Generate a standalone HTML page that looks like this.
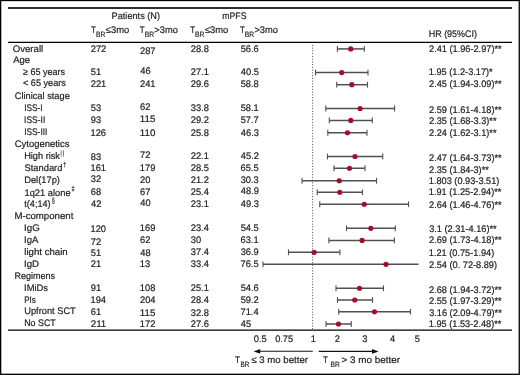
<!DOCTYPE html>
<html><head><meta charset="utf-8"><title>Forest plot: TBR and mPFS by subgroup</title>
<style>
html,body{margin:0;padding:0;background:#fff;}
body{width:520px;height:375px;overflow:hidden;}
svg{display:block;will-change:transform;}
text{font-family:"Liberation Sans",sans-serif;fill:#1e1e1e;text-rendering:geometricPrecision;stroke:#1e1e1e;stroke-width:0.20px;}
</style></head><body>
<svg width="520" height="375" viewBox="0 0 520 375">
<rect x="0" y="0" width="520" height="375" fill="#fff"/>
<rect x="0.65" y="0.5" width="518.6" height="373.8" fill="none" stroke="#000" stroke-width="1.3"/>
<line x1="8" y1="8.0" x2="512" y2="8.0" stroke="#2e2e2e" stroke-width="1.8"/>
<line x1="8" y1="42.3" x2="512" y2="42.3" stroke="#000" stroke-width="1.2"/>
<line x1="8" y1="330.2" x2="512" y2="330.2" stroke="#000" stroke-width="1.2"/>
<line x1="312.6" y1="44.9" x2="312.6" y2="329" stroke="#333" stroke-width="0.9" stroke-dasharray="1 1.75"/>
<text x="111.55" y="19.30" font-size="9.50" textLength="48.52" lengthAdjust="spacingAndGlyphs">Patients (N)</text>
<text x="222.32" y="19.40" font-size="9.50" textLength="24.18" lengthAdjust="spacingAndGlyphs">mPFS</text>
<text x="428.77" y="37.30" font-size="9.50" textLength="48.09" lengthAdjust="spacingAndGlyphs">HR (95%CI)</text>
<text x="91.12" y="32.80" font-size="9.50" textLength="4.86" lengthAdjust="spacingAndGlyphs">T</text>
<text x="95.95" y="36.60" font-size="7.70" textLength="9.37" lengthAdjust="spacingAndGlyphs">BR</text>
<text x="105.81" y="32.80" font-size="9.50" textLength="23.38" lengthAdjust="spacingAndGlyphs">≤3mo</text>
<text x="139.82" y="32.80" font-size="9.50" textLength="4.86" lengthAdjust="spacingAndGlyphs">T</text>
<text x="144.65" y="36.60" font-size="7.70" textLength="9.37" lengthAdjust="spacingAndGlyphs">BR</text>
<text x="154.34" y="32.80" font-size="9.50" textLength="23.55" lengthAdjust="spacingAndGlyphs">&gt;3mo</text>
<text x="190.22" y="32.80" font-size="9.50" textLength="4.86" lengthAdjust="spacingAndGlyphs">T</text>
<text x="195.05" y="36.60" font-size="7.70" textLength="9.37" lengthAdjust="spacingAndGlyphs">BR</text>
<text x="204.91" y="32.80" font-size="9.50" textLength="23.38" lengthAdjust="spacingAndGlyphs">≤3mo</text>
<text x="239.92" y="32.80" font-size="9.50" textLength="4.86" lengthAdjust="spacingAndGlyphs">T</text>
<text x="244.75" y="36.60" font-size="7.70" textLength="9.37" lengthAdjust="spacingAndGlyphs">BR</text>
<text x="254.44" y="32.80" font-size="9.50" textLength="23.55" lengthAdjust="spacingAndGlyphs">&gt;3mo</text>
<text x="12.75" y="52.00" font-size="9.50" textLength="30.40" lengthAdjust="spacingAndGlyphs">Overall</text>
<text x="13.18" y="62.80" font-size="9.50" textLength="16.94" lengthAdjust="spacingAndGlyphs">Age</text>
<text x="23.11" y="74.60" font-size="9.50" textLength="42.01" lengthAdjust="spacingAndGlyphs">≥ 65 years</text>
<text x="22.95" y="85.60" font-size="9.50" textLength="42.98" lengthAdjust="spacingAndGlyphs">&lt; 65 years</text>
<text x="14.73" y="98.50" font-size="9.50" textLength="55.08" lengthAdjust="spacingAndGlyphs">Clinical stage</text>
<text x="24.14" y="110.80" font-size="9.50" textLength="18.32" lengthAdjust="spacingAndGlyphs">ISS-I</text>
<text x="24.12" y="122.80" font-size="9.50" textLength="21.16" lengthAdjust="spacingAndGlyphs">ISS-II</text>
<text x="24.13" y="134.60" font-size="9.50" textLength="23.24" lengthAdjust="spacingAndGlyphs">ISS-III</text>
<text x="14.72" y="146.90" font-size="9.50" textLength="54.72" lengthAdjust="spacingAndGlyphs">Cytogenetics</text>
<text x="24.14" y="159.20" font-size="9.50" textLength="35.84" lengthAdjust="spacingAndGlyphs">High risk</text>
<text x="24.48" y="170.80" font-size="9.50" textLength="37.93" lengthAdjust="spacingAndGlyphs">Standard</text>
<text x="24.13" y="182.80" font-size="9.50" textLength="35.85" lengthAdjust="spacingAndGlyphs">Del(17p)</text>
<text x="24.49" y="195.50" font-size="9.50" textLength="46.12" lengthAdjust="spacingAndGlyphs">1q21 alone</text>
<text x="24.26" y="206.50" font-size="9.50" textLength="26.40" lengthAdjust="spacingAndGlyphs">t(4;14)</text>
<text x="14.41" y="219.20" font-size="9.50" textLength="58.96" lengthAdjust="spacingAndGlyphs">M-component</text>
<text x="24.00" y="231.20" font-size="9.50" textLength="15.73" lengthAdjust="spacingAndGlyphs">IgG</text>
<text x="24.02" y="243.10" font-size="9.50" textLength="14.30" lengthAdjust="spacingAndGlyphs">IgA</text>
<text x="24.25" y="254.90" font-size="9.50" textLength="43.48" lengthAdjust="spacingAndGlyphs">light chain</text>
<text x="24.01" y="266.90" font-size="9.50" textLength="15.06" lengthAdjust="spacingAndGlyphs">IgD</text>
<text x="14.46" y="278.90" font-size="9.50" textLength="40.67" lengthAdjust="spacingAndGlyphs">Regimens</text>
<text x="24.04" y="291.10" font-size="9.50" textLength="23.90" lengthAdjust="spacingAndGlyphs">IMiDs</text>
<text x="24.24" y="303.10" font-size="9.50" textLength="11.65" lengthAdjust="spacingAndGlyphs">PIs</text>
<text x="24.18" y="314.20" font-size="9.50" textLength="51.63" lengthAdjust="spacingAndGlyphs">Upfront SCT</text>
<text x="24.17" y="326.20" font-size="9.50" textLength="31.63" lengthAdjust="spacingAndGlyphs">No SCT</text>
<line x1="61.10" y1="150.30" x2="61.10" y2="156.60" stroke="#555" stroke-width="0.75"/>
<line x1="63.50" y1="150.30" x2="63.50" y2="156.60" stroke="#555" stroke-width="0.75"/>
<text x="63.35" y="166.70" font-size="7.00" textLength="2.90" lengthAdjust="spacingAndGlyphs">†</text>
<text x="71.62" y="191.00" font-size="7.00" textLength="3.16" lengthAdjust="spacingAndGlyphs">‡</text>
<text x="51.92" y="202.90" font-size="7.40" textLength="2.76" lengthAdjust="spacingAndGlyphs">§</text>
<text x="90.73" y="52.20" font-size="9.50" textLength="15.53" lengthAdjust="spacingAndGlyphs">272</text>
<text x="140.03" y="54.00" font-size="9.50" textLength="15.53" lengthAdjust="spacingAndGlyphs">287</text>
<text x="190.73" y="52.00" font-size="9.50" textLength="18.12" lengthAdjust="spacingAndGlyphs">28.8</text>
<text x="240.63" y="52.00" font-size="9.50" textLength="18.12" lengthAdjust="spacingAndGlyphs">56.6</text>
<text x="429.04" y="52.00" font-size="9.50" textLength="72.59" lengthAdjust="spacingAndGlyphs">2.41 (1.96-2.97)**</text>
<line x1="337.40" y1="48.90" x2="364.30" y2="48.90" stroke="#505050" stroke-width="1.5"/>
<line x1="337.40" y1="46.00" x2="337.40" y2="51.80" stroke="#505050" stroke-width="1.1"/>
<line x1="364.30" y1="46.00" x2="364.30" y2="51.80" stroke="#505050" stroke-width="1.1"/>
<circle cx="350.70" cy="48.90" r="2.6" fill="#aa0a2a"/>
<text x="90.83" y="74.70" font-size="9.50" textLength="10.36" lengthAdjust="spacingAndGlyphs">51</text>
<text x="140.29" y="74.30" font-size="9.50" textLength="10.36" lengthAdjust="spacingAndGlyphs">46</text>
<text x="190.73" y="74.90" font-size="9.50" textLength="18.12" lengthAdjust="spacingAndGlyphs">27.1</text>
<text x="240.79" y="74.90" font-size="9.50" textLength="18.12" lengthAdjust="spacingAndGlyphs">40.5</text>
<text x="428.80" y="75.20" font-size="9.50" textLength="63.90" lengthAdjust="spacingAndGlyphs">1.95 (1.2-3.17)*</text>
<line x1="315.50" y1="72.60" x2="368.00" y2="72.60" stroke="#505050" stroke-width="1.5"/>
<line x1="315.50" y1="69.70" x2="315.50" y2="75.50" stroke="#505050" stroke-width="1.1"/>
<line x1="368.00" y1="69.70" x2="368.00" y2="75.50" stroke="#505050" stroke-width="1.1"/>
<circle cx="341.70" cy="72.60" r="2.6" fill="#aa0a2a"/>
<text x="90.73" y="86.80" font-size="9.50" textLength="15.53" lengthAdjust="spacingAndGlyphs">221</text>
<text x="140.03" y="86.80" font-size="9.50" textLength="15.53" lengthAdjust="spacingAndGlyphs">241</text>
<text x="190.73" y="87.00" font-size="9.50" textLength="18.12" lengthAdjust="spacingAndGlyphs">29.6</text>
<text x="240.63" y="87.00" font-size="9.50" textLength="18.12" lengthAdjust="spacingAndGlyphs">58.8</text>
<text x="429.04" y="87.00" font-size="9.50" textLength="72.59" lengthAdjust="spacingAndGlyphs">2.45 (1.94-3.09)**</text>
<line x1="336.70" y1="84.70" x2="367.50" y2="84.70" stroke="#505050" stroke-width="1.5"/>
<line x1="336.70" y1="81.80" x2="336.70" y2="87.60" stroke="#505050" stroke-width="1.1"/>
<line x1="367.50" y1="81.80" x2="367.50" y2="87.60" stroke="#505050" stroke-width="1.1"/>
<circle cx="351.80" cy="84.70" r="2.6" fill="#aa0a2a"/>
<text x="90.83" y="111.25" font-size="9.50" textLength="10.36" lengthAdjust="spacingAndGlyphs">53</text>
<text x="140.03" y="109.50" font-size="9.50" textLength="10.36" lengthAdjust="spacingAndGlyphs">62</text>
<text x="190.85" y="111.25" font-size="9.50" textLength="18.12" lengthAdjust="spacingAndGlyphs">33.8</text>
<text x="240.63" y="111.25" font-size="9.50" textLength="18.12" lengthAdjust="spacingAndGlyphs">58.1</text>
<text x="429.04" y="112.50" font-size="9.50" textLength="72.59" lengthAdjust="spacingAndGlyphs">2.59 (1.61-4.18)**</text>
<line x1="325.80" y1="108.50" x2="394.60" y2="108.50" stroke="#505050" stroke-width="1.5"/>
<line x1="325.80" y1="105.60" x2="325.80" y2="111.40" stroke="#505050" stroke-width="1.1"/>
<line x1="394.60" y1="105.60" x2="394.60" y2="111.40" stroke="#505050" stroke-width="1.1"/>
<circle cx="360.10" cy="108.50" r="2.6" fill="#aa0a2a"/>
<text x="90.76" y="123.00" font-size="9.50" textLength="10.36" lengthAdjust="spacingAndGlyphs">93</text>
<text x="139.79" y="122.20" font-size="9.50" textLength="15.53" lengthAdjust="spacingAndGlyphs">115</text>
<text x="190.73" y="123.00" font-size="9.50" textLength="18.12" lengthAdjust="spacingAndGlyphs">29.2</text>
<text x="240.63" y="123.00" font-size="9.50" textLength="18.12" lengthAdjust="spacingAndGlyphs">57.7</text>
<text x="429.04" y="124.20" font-size="9.50" textLength="67.48" lengthAdjust="spacingAndGlyphs">2.35 (1.68-3.3)**</text>
<line x1="329.30" y1="120.40" x2="372.30" y2="120.40" stroke="#505050" stroke-width="1.5"/>
<line x1="329.30" y1="117.50" x2="329.30" y2="123.30" stroke="#505050" stroke-width="1.1"/>
<line x1="372.30" y1="117.50" x2="372.30" y2="123.30" stroke="#505050" stroke-width="1.1"/>
<circle cx="350.80" cy="120.40" r="2.6" fill="#aa0a2a"/>
<text x="90.49" y="135.50" font-size="9.50" textLength="15.53" lengthAdjust="spacingAndGlyphs">126</text>
<text x="139.79" y="135.50" font-size="9.50" textLength="15.53" lengthAdjust="spacingAndGlyphs">110</text>
<text x="190.73" y="135.50" font-size="9.50" textLength="18.12" lengthAdjust="spacingAndGlyphs">25.8</text>
<text x="240.79" y="135.50" font-size="9.50" textLength="18.12" lengthAdjust="spacingAndGlyphs">46.3</text>
<text x="429.04" y="136.30" font-size="9.50" textLength="67.48" lengthAdjust="spacingAndGlyphs">2.24 (1.62-3.1)**</text>
<line x1="327.80" y1="132.75" x2="367.00" y2="132.75" stroke="#505050" stroke-width="1.5"/>
<line x1="327.80" y1="129.85" x2="327.80" y2="135.65" stroke="#505050" stroke-width="1.1"/>
<line x1="367.00" y1="129.85" x2="367.00" y2="135.65" stroke="#505050" stroke-width="1.1"/>
<circle cx="347.50" cy="132.75" r="2.6" fill="#aa0a2a"/>
<text x="90.80" y="159.50" font-size="9.50" textLength="10.36" lengthAdjust="spacingAndGlyphs">83</text>
<text x="140.02" y="158.30" font-size="9.50" textLength="10.36" lengthAdjust="spacingAndGlyphs">72</text>
<text x="190.73" y="159.20" font-size="9.50" textLength="18.12" lengthAdjust="spacingAndGlyphs">22.1</text>
<text x="240.79" y="159.20" font-size="9.50" textLength="18.12" lengthAdjust="spacingAndGlyphs">45.2</text>
<text x="429.04" y="160.75" font-size="9.50" textLength="72.59" lengthAdjust="spacingAndGlyphs">2.47 (1.64-3.73)**</text>
<line x1="327.50" y1="156.50" x2="382.75" y2="156.50" stroke="#505050" stroke-width="1.5"/>
<line x1="327.50" y1="153.60" x2="327.50" y2="159.40" stroke="#505050" stroke-width="1.1"/>
<line x1="382.75" y1="153.60" x2="382.75" y2="159.40" stroke="#505050" stroke-width="1.1"/>
<circle cx="355.00" cy="156.50" r="2.6" fill="#aa0a2a"/>
<text x="90.49" y="171.20" font-size="9.50" textLength="15.53" lengthAdjust="spacingAndGlyphs">161</text>
<text x="139.79" y="170.80" font-size="9.50" textLength="15.53" lengthAdjust="spacingAndGlyphs">179</text>
<text x="190.73" y="171.20" font-size="9.50" textLength="18.12" lengthAdjust="spacingAndGlyphs">28.5</text>
<text x="240.53" y="171.20" font-size="9.50" textLength="18.12" lengthAdjust="spacingAndGlyphs">65.5</text>
<text x="429.04" y="172.90" font-size="9.50" textLength="59.81" lengthAdjust="spacingAndGlyphs">2.35 (1.84-3)**</text>
<line x1="334.00" y1="168.25" x2="365.00" y2="168.25" stroke="#505050" stroke-width="1.5"/>
<line x1="334.00" y1="165.35" x2="334.00" y2="171.15" stroke="#505050" stroke-width="1.1"/>
<line x1="365.00" y1="165.35" x2="365.00" y2="171.15" stroke="#505050" stroke-width="1.1"/>
<circle cx="349.50" cy="168.25" r="2.6" fill="#aa0a2a"/>
<text x="90.85" y="182.40" font-size="9.50" textLength="10.36" lengthAdjust="spacingAndGlyphs">32</text>
<text x="140.03" y="183.30" font-size="9.50" textLength="10.36" lengthAdjust="spacingAndGlyphs">20</text>
<text x="190.73" y="183.00" font-size="9.50" textLength="18.12" lengthAdjust="spacingAndGlyphs">21.2</text>
<text x="240.65" y="183.00" font-size="9.50" textLength="18.12" lengthAdjust="spacingAndGlyphs">30.3</text>
<text x="428.80" y="183.80" font-size="9.50" textLength="70.55" lengthAdjust="spacingAndGlyphs">1.803 (0.93-3.51)</text>
<line x1="302.00" y1="180.75" x2="376.50" y2="180.75" stroke="#505050" stroke-width="1.5"/>
<line x1="302.00" y1="177.85" x2="302.00" y2="183.65" stroke="#505050" stroke-width="1.1"/>
<line x1="376.50" y1="177.85" x2="376.50" y2="183.65" stroke="#505050" stroke-width="1.1"/>
<circle cx="339.25" cy="180.75" r="2.6" fill="#aa0a2a"/>
<text x="90.73" y="194.60" font-size="9.50" textLength="10.36" lengthAdjust="spacingAndGlyphs">68</text>
<text x="140.03" y="195.10" font-size="9.50" textLength="10.36" lengthAdjust="spacingAndGlyphs">67</text>
<text x="190.73" y="195.40" font-size="9.50" textLength="18.12" lengthAdjust="spacingAndGlyphs">25.4</text>
<text x="240.79" y="194.20" font-size="9.50" textLength="18.12" lengthAdjust="spacingAndGlyphs">48.9</text>
<text x="428.80" y="195.40" font-size="9.50" textLength="72.59" lengthAdjust="spacingAndGlyphs">1.91 (1.25-2.94)**</text>
<line x1="317.25" y1="192.25" x2="362.50" y2="192.25" stroke="#505050" stroke-width="1.5"/>
<line x1="317.25" y1="189.35" x2="317.25" y2="195.15" stroke="#505050" stroke-width="1.1"/>
<line x1="362.50" y1="189.35" x2="362.50" y2="195.15" stroke="#505050" stroke-width="1.1"/>
<circle cx="339.75" cy="192.25" r="2.6" fill="#aa0a2a"/>
<text x="90.99" y="206.90" font-size="9.50" textLength="10.36" lengthAdjust="spacingAndGlyphs">42</text>
<text x="140.29" y="206.40" font-size="9.50" textLength="10.36" lengthAdjust="spacingAndGlyphs">40</text>
<text x="190.73" y="206.70" font-size="9.50" textLength="18.12" lengthAdjust="spacingAndGlyphs">23.1</text>
<text x="240.79" y="206.70" font-size="9.50" textLength="18.12" lengthAdjust="spacingAndGlyphs">49.3</text>
<text x="429.04" y="208.10" font-size="9.50" textLength="72.59" lengthAdjust="spacingAndGlyphs">2.64 (1.46-4.76)**</text>
<line x1="319.75" y1="204.25" x2="408.50" y2="204.25" stroke="#505050" stroke-width="1.5"/>
<line x1="319.75" y1="201.35" x2="319.75" y2="207.15" stroke="#505050" stroke-width="1.1"/>
<line x1="408.50" y1="201.35" x2="408.50" y2="207.15" stroke="#505050" stroke-width="1.1"/>
<circle cx="364.25" cy="204.25" r="2.6" fill="#aa0a2a"/>
<text x="90.49" y="231.80" font-size="9.50" textLength="15.53" lengthAdjust="spacingAndGlyphs">120</text>
<text x="139.79" y="230.70" font-size="9.50" textLength="15.53" lengthAdjust="spacingAndGlyphs">169</text>
<text x="190.73" y="231.25" font-size="9.50" textLength="18.12" lengthAdjust="spacingAndGlyphs">23.4</text>
<text x="240.63" y="231.25" font-size="9.50" textLength="18.12" lengthAdjust="spacingAndGlyphs">54.5</text>
<text x="429.15" y="231.80" font-size="9.50" textLength="67.48" lengthAdjust="spacingAndGlyphs">3.1 (2.31-4.16)**</text>
<line x1="346.50" y1="228.30" x2="395.30" y2="228.30" stroke="#505050" stroke-width="1.5"/>
<line x1="346.50" y1="225.40" x2="346.50" y2="231.20" stroke="#505050" stroke-width="1.1"/>
<line x1="395.30" y1="225.40" x2="395.30" y2="231.20" stroke="#505050" stroke-width="1.1"/>
<circle cx="370.80" cy="228.30" r="2.6" fill="#aa0a2a"/>
<text x="90.72" y="244.70" font-size="9.50" textLength="10.36" lengthAdjust="spacingAndGlyphs">72</text>
<text x="140.03" y="243.40" font-size="9.50" textLength="10.36" lengthAdjust="spacingAndGlyphs">62</text>
<text x="190.85" y="243.00" font-size="9.50" textLength="10.36" lengthAdjust="spacingAndGlyphs">30</text>
<text x="240.53" y="243.00" font-size="9.50" textLength="18.12" lengthAdjust="spacingAndGlyphs">63.1</text>
<text x="429.04" y="243.40" font-size="9.50" textLength="72.59" lengthAdjust="spacingAndGlyphs">2.69 (1.73-4.18)**</text>
<line x1="328.90" y1="240.40" x2="394.40" y2="240.40" stroke="#505050" stroke-width="1.5"/>
<line x1="328.90" y1="237.50" x2="328.90" y2="243.30" stroke="#505050" stroke-width="1.1"/>
<line x1="394.40" y1="237.50" x2="394.40" y2="243.30" stroke="#505050" stroke-width="1.1"/>
<circle cx="362.10" cy="240.40" r="2.6" fill="#aa0a2a"/>
<text x="90.83" y="255.80" font-size="9.50" textLength="10.36" lengthAdjust="spacingAndGlyphs">51</text>
<text x="140.29" y="255.80" font-size="9.50" textLength="10.36" lengthAdjust="spacingAndGlyphs">48</text>
<text x="190.85" y="255.10" font-size="9.50" textLength="18.12" lengthAdjust="spacingAndGlyphs">37.4</text>
<text x="240.65" y="255.10" font-size="9.50" textLength="18.12" lengthAdjust="spacingAndGlyphs">36.9</text>
<text x="428.80" y="255.50" font-size="9.50" textLength="65.44" lengthAdjust="spacingAndGlyphs">1.21 (0.75-1.94)</text>
<line x1="288.50" y1="252.30" x2="339.90" y2="252.30" stroke="#505050" stroke-width="1.5"/>
<line x1="288.50" y1="249.40" x2="288.50" y2="255.20" stroke="#505050" stroke-width="1.1"/>
<line x1="339.90" y1="249.40" x2="339.90" y2="255.20" stroke="#505050" stroke-width="1.1"/>
<circle cx="314.10" cy="252.30" r="2.6" fill="#aa0a2a"/>
<text x="90.73" y="266.70" font-size="9.50" textLength="10.36" lengthAdjust="spacingAndGlyphs">21</text>
<text x="139.79" y="266.70" font-size="9.50" textLength="10.36" lengthAdjust="spacingAndGlyphs">13</text>
<text x="190.85" y="267.20" font-size="9.50" textLength="18.12" lengthAdjust="spacingAndGlyphs">33.4</text>
<text x="240.52" y="267.20" font-size="9.50" textLength="18.12" lengthAdjust="spacingAndGlyphs">76.5</text>
<text x="429.04" y="267.60" font-size="9.50" textLength="67.99" lengthAdjust="spacingAndGlyphs">2.54 (0. 72-8.89)</text>
<line x1="263.00" y1="264.30" x2="418.50" y2="264.30" stroke="#505050" stroke-width="1.5"/>
<line x1="263.00" y1="261.40" x2="263.00" y2="267.20" stroke="#505050" stroke-width="1.1"/>
<circle cx="386.00" cy="264.30" r="2.6" fill="#aa0a2a"/>
<text x="90.76" y="290.90" font-size="9.50" textLength="10.36" lengthAdjust="spacingAndGlyphs">91</text>
<text x="139.79" y="291.25" font-size="9.50" textLength="15.53" lengthAdjust="spacingAndGlyphs">108</text>
<text x="190.73" y="291.25" font-size="9.50" textLength="18.12" lengthAdjust="spacingAndGlyphs">25.1</text>
<text x="240.63" y="291.25" font-size="9.50" textLength="18.12" lengthAdjust="spacingAndGlyphs">54.6</text>
<text x="429.04" y="293.00" font-size="9.50" textLength="72.59" lengthAdjust="spacingAndGlyphs">2.68 (1.94-3.72)**</text>
<line x1="336.00" y1="288.25" x2="383.50" y2="288.25" stroke="#505050" stroke-width="1.5"/>
<line x1="336.00" y1="285.35" x2="336.00" y2="291.15" stroke="#505050" stroke-width="1.1"/>
<line x1="383.50" y1="285.35" x2="383.50" y2="291.15" stroke="#505050" stroke-width="1.1"/>
<circle cx="359.50" cy="288.25" r="2.6" fill="#aa0a2a"/>
<text x="90.49" y="303.40" font-size="9.50" textLength="15.53" lengthAdjust="spacingAndGlyphs">194</text>
<text x="140.03" y="303.00" font-size="9.50" textLength="15.53" lengthAdjust="spacingAndGlyphs">204</text>
<text x="190.73" y="303.40" font-size="9.50" textLength="18.12" lengthAdjust="spacingAndGlyphs">28.4</text>
<text x="240.63" y="303.40" font-size="9.50" textLength="18.12" lengthAdjust="spacingAndGlyphs">59.2</text>
<text x="429.04" y="304.20" font-size="9.50" textLength="72.59" lengthAdjust="spacingAndGlyphs">2.55 (1.97-3.29)**</text>
<line x1="337.50" y1="300.00" x2="372.50" y2="300.00" stroke="#505050" stroke-width="1.5"/>
<line x1="337.50" y1="297.10" x2="337.50" y2="302.90" stroke="#505050" stroke-width="1.1"/>
<line x1="372.50" y1="297.10" x2="372.50" y2="302.90" stroke="#505050" stroke-width="1.1"/>
<circle cx="354.75" cy="300.00" r="2.6" fill="#aa0a2a"/>
<text x="90.73" y="315.00" font-size="9.50" textLength="10.36" lengthAdjust="spacingAndGlyphs">61</text>
<text x="139.79" y="316.00" font-size="9.50" textLength="15.53" lengthAdjust="spacingAndGlyphs">115</text>
<text x="190.85" y="315.80" font-size="9.50" textLength="18.12" lengthAdjust="spacingAndGlyphs">32.8</text>
<text x="240.52" y="314.60" font-size="9.50" textLength="18.12" lengthAdjust="spacingAndGlyphs">71.4</text>
<text x="429.15" y="315.50" font-size="9.50" textLength="72.59" lengthAdjust="spacingAndGlyphs">3.16 (2.09-4.79)**</text>
<line x1="338.75" y1="311.75" x2="410.50" y2="311.75" stroke="#505050" stroke-width="1.5"/>
<line x1="338.75" y1="308.85" x2="338.75" y2="314.65" stroke="#505050" stroke-width="1.1"/>
<line x1="410.50" y1="308.85" x2="410.50" y2="314.65" stroke="#505050" stroke-width="1.1"/>
<circle cx="374.50" cy="311.75" r="2.6" fill="#aa0a2a"/>
<text x="90.73" y="326.70" font-size="9.50" textLength="15.53" lengthAdjust="spacingAndGlyphs">211</text>
<text x="139.79" y="326.70" font-size="9.50" textLength="15.53" lengthAdjust="spacingAndGlyphs">172</text>
<text x="190.73" y="326.70" font-size="9.50" textLength="18.12" lengthAdjust="spacingAndGlyphs">27.6</text>
<text x="240.79" y="326.70" font-size="9.50" textLength="10.36" lengthAdjust="spacingAndGlyphs">45</text>
<text x="428.80" y="327.00" font-size="9.50" textLength="72.59" lengthAdjust="spacingAndGlyphs">1.95 (1.53-2.48)**</text>
<line x1="326.00" y1="324.00" x2="351.25" y2="324.00" stroke="#505050" stroke-width="1.5"/>
<line x1="326.00" y1="321.10" x2="326.00" y2="326.90" stroke="#505050" stroke-width="1.1"/>
<line x1="351.25" y1="321.10" x2="351.25" y2="326.90" stroke="#505050" stroke-width="1.1"/>
<circle cx="338.50" cy="324.00" r="2.6" fill="#aa0a2a"/>
<text x="253.74" y="342.00" font-size="9.50" textLength="12.96" lengthAdjust="spacingAndGlyphs">0.5</text>
<text x="275.14" y="342.00" font-size="9.50" textLength="18.05" lengthAdjust="spacingAndGlyphs">0.75</text>
<text x="310.69" y="342.00" font-size="9.50" textLength="5.18" lengthAdjust="spacingAndGlyphs">1</text>
<text x="334.73" y="342.00" font-size="9.50" textLength="5.18" lengthAdjust="spacingAndGlyphs">2</text>
<text x="362.35" y="342.00" font-size="9.50" textLength="5.18" lengthAdjust="spacingAndGlyphs">3</text>
<text x="389.99" y="342.00" font-size="9.50" textLength="5.18" lengthAdjust="spacingAndGlyphs">4</text>
<text x="414.83" y="342.00" font-size="9.50" textLength="5.18" lengthAdjust="spacingAndGlyphs">5</text>
<line x1="312.8" y1="351.3" x2="258" y2="351.3" stroke="#111" stroke-width="1.1"/>
<path d="M253.6 351.3 L260.2 348.9 L260.2 353.7 Z" fill="#111"/>
<line x1="318.7" y1="351.4" x2="374" y2="351.4" stroke="#111" stroke-width="1.1"/>
<path d="M378.6 351.4 L372.0 349.0 L372.0 353.8 Z" fill="#111"/>
<text x="234.92" y="362.80" font-size="9.50" textLength="4.97" lengthAdjust="spacingAndGlyphs">T</text>
<text x="240.58" y="366.50" font-size="7.70" textLength="8.81" lengthAdjust="spacingAndGlyphs">BR</text>
<text x="251.40" y="362.50" font-size="9.50" textLength="56.56" lengthAdjust="spacingAndGlyphs">≤ 3 mo better</text>
<text x="323.12" y="362.70" font-size="9.50" textLength="4.86" lengthAdjust="spacingAndGlyphs">T</text>
<text x="330.45" y="366.90" font-size="7.70" textLength="9.26" lengthAdjust="spacingAndGlyphs">BR</text>
<text x="341.41" y="362.50" font-size="9.50" textLength="58.55" lengthAdjust="spacingAndGlyphs">&gt; 3 mo better</text>
</svg>
</body></html>
